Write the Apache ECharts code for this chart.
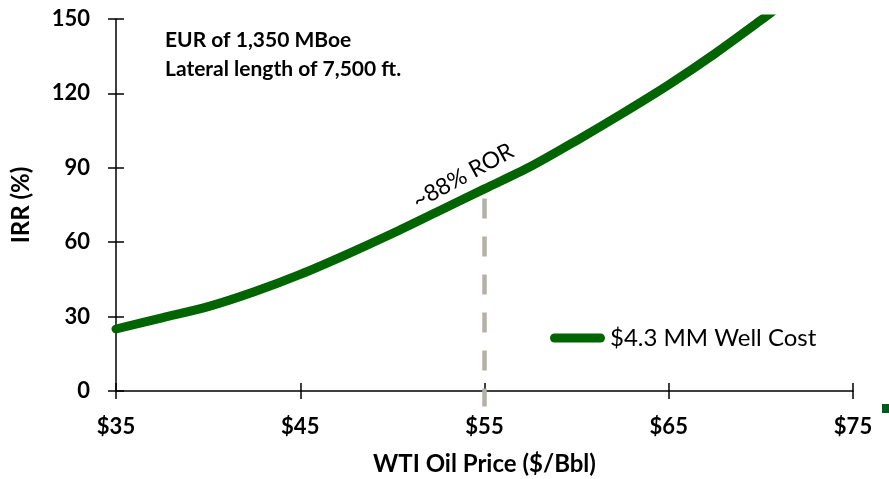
<!DOCTYPE html>
<html>
<head>
<meta charset="utf-8">
<script src="https://cdn.jsdelivr.net/npm/echarts@6/dist/echarts.min.js"></script>
<style>
  html, body { margin: 0; padding: 0; background: #fff; }
  #chart { width: 889px; height: 479px; }
</style>
</head>
<body>
<div id="chart"></div>
<script>
// WTI oil price ($/Bbl) vs. IRR (%) for a $4.3 MM well
const prices = [35, 37.5, 40, 42.5, 45, 47.5, 50, 52.5, 55, 57.5, 60, 62.5, 65, 67.5, 70, 70.8];
const irr    = [25, 29.5, 34, 40, 47, 55, 63.5, 72.5, 81.5, 90.5, 101, 112, 123.5, 136, 149.5, 154];

// Reference price marker at $55
const refPrice = 55;
const refTop = 77.6;
const refBottom = -6.3;

const xTicks = [35, 45, 55, 65, 75];
const yTicks = [0, 30, 60, 90, 120, 150];

const seriesName = '$4.3 MM Well Cost';
const noteLines = ['EUR of 1,350 MBoe', 'Lateral length of 7,500 ft.'];
const rorLabel = '~88% ROR';

const FONT = 'Lato, "Open Sans", sans-serif';
const GREEN = '#006400';

const chart = echarts.init(document.getElementById('chart'), null, { renderer: 'canvas' });

const baseX = {
  type: 'value', min: xTicks[0], max: xTicks[xTicks.length - 1], interval: 10,
  splitLine: { show: false }
};
const baseY = {
  type: 'value', min: yTicks[0], max: yTicks[yTicks.length - 1], interval: 30,
  splitLine: { show: false }
};

chart.setOption({
  animation: false,
  backgroundColor: '#ffffff',
  grid: {
    left: 116, right: 36, top: 19, bottom: 88,
    containLabel: false, outerBoundsMode: 'none'
  },
  xAxis: [
    Object.assign({}, baseX, {
      position: 'bottom',
      name: 'WTI Oil Price ($/Bbl)',
      nameLocation: 'middle',
      nameGap: 61,
      nameTextStyle: { fontFamily: FONT, fontWeight: 'bold', fontSize: 24, color: '#000' },
      axisLine: { show: true, lineStyle: { color: '#000', width: 1.5 } },
      axisTick: { show: true, length: 8, lineStyle: { color: '#000', width: 1.5 } },
      axisLabel: {
        margin: 25, fontFamily: FONT, fontWeight: 'bold', fontSize: 22, color: '#000',
        formatter: v => '$' + v
      }
    }),
    Object.assign({}, baseX, {
      position: 'bottom',
      axisLine: { show: false },
      axisTick: { show: true, inside: true, length: 8, lineStyle: { color: '#000', width: 1.5 } },
      axisLabel: { show: false }
    })
  ],
  yAxis: [
    Object.assign({}, baseY, {
      position: 'left',
      name: 'IRR (%)',
      nameLocation: 'middle',
      nameGap: 83,
      nameRotate: 90,
      nameTextStyle: { fontFamily: FONT, fontWeight: 'bold', fontSize: 24, color: '#000' },
      axisLine: { show: true, lineStyle: { color: '#000', width: 1.5 } },
      axisTick: { show: true, length: 8, lineStyle: { color: '#000', width: 1.5 } },
      axisLabel: { margin: 26, fontFamily: FONT, fontWeight: 'bold', fontSize: 22, color: '#000' }
    }),
    Object.assign({}, baseY, {
      position: 'left',
      axisLine: { show: false },
      axisTick: { show: true, inside: true, length: 8, lineStyle: { color: '#000', width: 1.5 } },
      axisLabel: { show: false }
    })
  ],
  legend: {
    left: 545, top: 321,
    itemWidth: 55, itemHeight: 9, itemGap: 0,
    textStyle: { fontFamily: FONT, fontSize: 24, color: '#000' },
    data: [{
      name: seriesName,
      icon: 'path://M4.5,0 L50.5,0 A4.5,4.5 0 0 1 50.5,9 L4.5,9 A4.5,4.5 0 0 1 4.5,0 Z',
      itemStyle: { color: GREEN }
    }]
  },
  series: [
    {
      name: 'ref',
      type: 'line',
      data: [[refPrice, refTop], [refPrice, refBottom]],
      showSymbol: false,
      symbol: 'none',
      clip: false,
      silent: true,
      z: 1,
      lineStyle: { color: '#b5b1a8', width: 4.5, type: [20, 18] }
    },
    {
      name: seriesName,
      type: 'line',
      data: prices.map((p, i) => [p, irr[i]]),
      smooth: 0.3,
      showSymbol: false,
      symbol: 'none',
      clip: true,
      z: 3,
      color: GREEN,
      lineStyle: { color: GREEN, width: 9, cap: 'round' },
      itemStyle: { color: GREEN }
    }
  ],
  graphic: [
    {
      type: 'text', left: 165, top: 26, silent: true,
      style: {
        text: noteLines.join('\n'), fontFamily: FONT, fontWeight: 'bold', fontSize: 21,
        lineHeight: 29, fill: '#000'
      }
    },
    {
      type: 'text', x: 463, y: 176, rotation: 0.5, silent: true,
      style: {
        text: rorLabel, fontFamily: FONT, fontSize: 23, fill: '#000',
        align: 'center', verticalAlign: 'middle'
      }
    },
    {
      type: 'rect', silent: true,
      shape: { x: 882, y: 404, width: 7, height: 9 },
      style: { fill: '#005a1e' }
    }
  ]
});
</script>
</body>
</html>
